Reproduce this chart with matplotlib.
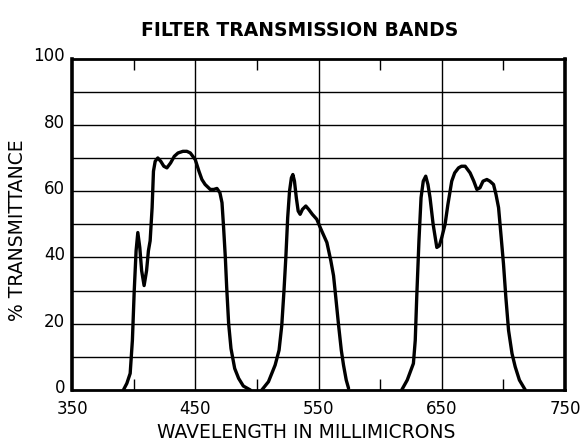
import matplotlib
matplotlib.use("Agg")
import matplotlib.pyplot as plt
from matplotlib.ticker import FixedLocator
from matplotlib.transforms import ScaledTranslation

plt.rcParams['font.family'] = ['DejaVu Sans']

# ---- data ----
band1_wl = [391.7, 394.5, 397.2, 399.0, 400.5, 402.0, 403.4, 405.0, 406.5, 408.5,
            410.5, 412.0, 413.4, 415.0, 416.1, 417.5, 419.6, 422.0, 424.5, 427.0,
            430.0, 433.0, 436.0, 440.0, 443.2, 446.0, 450.0, 453.0, 455.4, 458.0,
            462.2, 465.0, 467.6, 470.0, 471.7, 473.0, 474.4, 475.5, 477.1, 479.0,
            482.0, 485.2, 489.0, 494.7]
band1_t = [0, 2, 5, 15, 30, 42, 47.5, 43, 36, 31.5,
           36, 42, 45, 55, 66, 69, 70, 69, 67.5, 67,
           68.5, 70.5, 71.5, 72, 72, 71.5, 69.5, 66, 63.5, 62,
           60.5, 60.5, 60.8, 59.5, 56.5, 49, 40, 31, 20, 12.5,
           6.5, 3.5, 1.2, 0]

band2_wl = [504.0, 509.4, 514.8, 518.0, 520.2, 522.0, 523.5, 525.0, 526.5, 528.0,
            529.2, 530.5, 532.0, 533.5, 535.1, 537.0, 539.7, 542.0, 545.0, 548.6,
            552.0, 556.8, 560.0, 562.2, 564.0, 566.3, 568.5, 570.3, 572.5, 574.4]
band2_t = [0, 2.5, 7.5, 12, 19.5, 30, 40, 52, 60, 64,
           65, 63, 58, 54, 53, 54.5, 55.5, 54.5, 53, 51.5,
           48.5, 44.5, 39, 34.5, 28, 19.5, 12, 7.5, 3, 0.5]

band3_wl = [617.5, 622.0, 627.0, 628.5, 629.7, 631.5, 633.2, 635.0, 637.0, 638.8,
            640.5, 643.0, 646.0, 648.0, 650.0, 652.7, 655.0, 658.1, 660.5, 663.6,
            666.0, 669.0, 671.0, 673.0, 676.0, 678.5, 681.0, 683.5, 686.6, 689.0,
            692.0, 694.0, 696.1, 698.0, 700.1, 702.0, 704.2, 707.0, 709.6, 713.0,
            717.8]
band3_t = [0, 3, 8, 15, 28, 45, 58, 63, 64.5, 62,
           58, 50, 43, 43.5, 46, 50, 56, 63, 65.5, 67,
           67.5, 67.5, 66.5, 65.5, 63, 60.5, 61, 63, 63.5, 63,
           62, 59, 55, 47, 38, 28, 18, 11, 7, 3,
           0]

x_ticks = [350, 450, 550, 650, 750]
x_minor = [400, 500, 600, 700]
y_ticks = [0, 20, 40, 60, 80, 100]
y_grid = [10, 20, 30, 40, 50, 60, 70, 80, 90]

title = "FILTER TRANSMISSION BANDS"
xlabel = "WAVELENGTH IN MILLIMICRONS"
ylabel = "% TRANSMITTANCE"

# ---- figure ----
fig = plt.figure(figsize=(5.82, 4.46), dpi=100)
ax = fig.add_axes([72/582, 1 - 390/446, (565 - 72)/582, (390 - 58.5)/446])

for wl, t in [(band1_wl, band1_t), (band2_wl, band2_t), (band3_wl, band3_t)]:
    ax.plot(wl, t, color='black', lw=2.4, solid_joinstyle='round',
            solid_capstyle='round', zorder=3)

ax.set_xlim(350, 750)
ax.set_ylim(0, 100)

for y in y_grid:
    ax.axhline(y, color='black', lw=1.0, zorder=1)
for x in [450, 550, 650]:
    ax.axvline(x, color='black', lw=1.0, zorder=1)

ax.xaxis.set_major_locator(FixedLocator(x_ticks))
ax.yaxis.set_major_locator(FixedLocator(y_ticks))
ax.xaxis.set_minor_locator(FixedLocator(x_minor))
ax.tick_params(axis='both', which='major', length=0, labelsize=12, colors='black')
ax.tick_params(axis='x', which='major', pad=7)
ax.tick_params(axis='y', which='major', pad=5)
ax.tick_params(axis='x', which='minor', direction='in', length=8, width=1.0,
               top=True, bottom=True)

# y tick labels sit slightly above their lines in the reference
shift = ScaledTranslation(0, 3/72, fig.dpi_scale_trans)
for lab in ax.get_yticklabels():
    lab.set_transform(lab.get_transform() + shift)

for side in ['left', 'right']:
    ax.spines[side].set_linewidth(2.6)
for side in ['top', 'bottom']:
    ax.spines[side].set_linewidth(2.0)

fig.text(300/582, 1 - 30/446, title, ha='center', va='center',
         fontsize=13.5, fontweight='bold')
fig.text(306/582, 1 - 432/446, xlabel, ha='center', va='center', fontsize=13.5)
fig.text(18/582, 1 - 230/446, ylabel, ha='center', va='center', fontsize=13.5,
         rotation=90)

fig.savefig("out.png", dpi=100)
